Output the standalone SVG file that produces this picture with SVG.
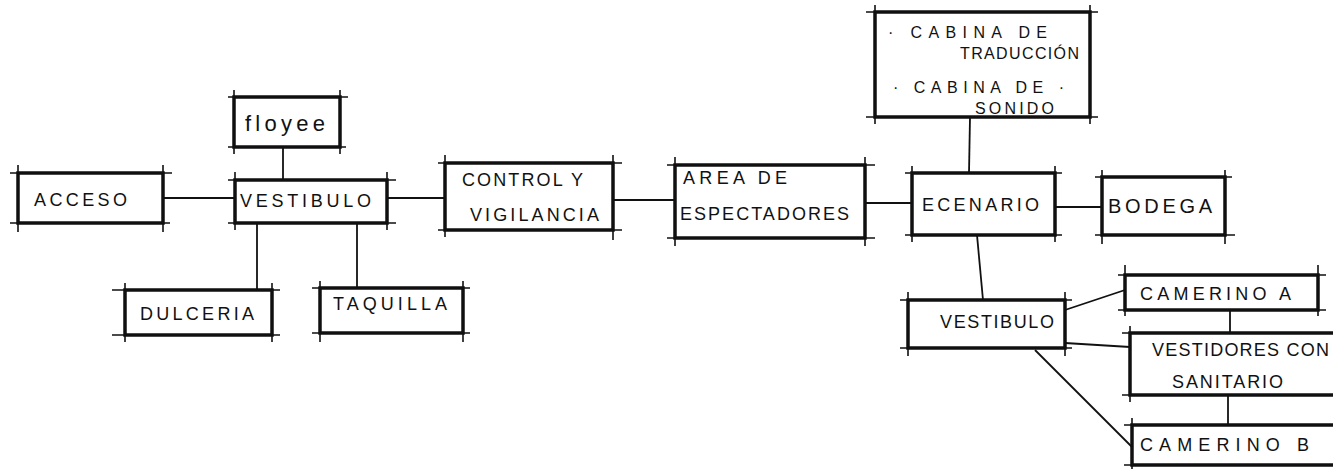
<svg xmlns="http://www.w3.org/2000/svg" width="1333" height="469" viewBox="0 0 1333 469">
<style>
.box{fill:#fff;stroke:#111;stroke-width:3.5;stroke-linejoin:miter}
.ov{fill:none;stroke:#111;stroke-width:1.6}
.conn line{fill:none;stroke:#111;stroke-width:1.8}
text{font-family:"Liberation Sans","DejaVu Sans",sans-serif;font-size:18px;fill:#111;letter-spacing:1px}
.sm{font-size:16px}
.lc{font-size:22px;letter-spacing:0}
</style>
<rect width="1333" height="469" fill="#fff"/>
<g class="conn" id="connectors">
<line x1="163" y1="198" x2="235" y2="198"/>
<line x1="283" y1="147" x2="283" y2="180"/>
<line x1="387" y1="198" x2="445" y2="198"/>
<line x1="257" y1="223" x2="257" y2="290"/>
<line x1="357" y1="223" x2="357" y2="288"/>
<line x1="613" y1="200" x2="675" y2="200"/>
<line x1="865" y1="203" x2="912" y2="203"/>
<line x1="970" y1="117" x2="969" y2="173"/>
<line x1="1055" y1="207" x2="1102" y2="207"/>
<line x1="977" y1="235" x2="983" y2="300"/>
<line x1="1065" y1="310" x2="1125" y2="290"/>
<line x1="1065" y1="343" x2="1130" y2="347"/>
<line x1="1035" y1="350" x2="1132" y2="447"/>
<line x1="1230" y1="310" x2="1230" y2="333"/>
<line x1="1228" y1="395" x2="1228" y2="425"/>
</g>
<g id="acceso">
<rect class="box" x="18" y="173" width="145" height="50"/>
<path class="ov" d="M10 173H172M10 223H170M18 165V232M163 165V232"/>
<text x="34" y="206" textLength="94">ACCESO</text>
</g>
<g id="floyee">
<rect class="box" x="234" y="97" width="106" height="50"/>
<path class="ov" d="M228 97H348M228 147H346M234 90V154M340 90V154"/>
<text class="lc" x="245" y="131" textLength="80">floyee</text>
</g>
<g id="vestibulo1">
<rect class="box" x="235" y="180" width="152" height="43"/>
<path class="ov" d="M228 180H396M228 223H396M235 172V230M387 172V230"/>
<text x="240" y="207" textLength="132">VESTIBULO</text>
</g>
<g id="dulceria">
<rect class="box" x="125" y="290" width="147" height="45"/>
<path class="ov" d="M112 290H280M112 335H280M125 283V342M272 283V342"/>
<text x="140" y="320" textLength="115">DULCERIA</text>
</g>
<g id="taquilla">
<rect class="box" x="320" y="288" width="143" height="45"/>
<path class="ov" d="M312 288H470M312 333H470M320 281V342M463 281V342"/>
<text x="333" y="310" textLength="115">TAQUILLA</text>
</g>
<g id="control">
<rect class="box" x="445" y="163" width="168" height="67"/>
<path class="ov" d="M438 163H622M438 230H622M445 155V237M613 155V240"/>
<text x="462" y="186" textLength="122">CONTROL Y</text>
<text x="470" y="221" textLength="130">VIGILANCIA</text>
</g>
<g id="area">
<rect class="box" x="675" y="165" width="190" height="73"/>
<path class="ov" d="M667 165H875M667 238H875M675 157V246M865 157V246"/>
<text x="683" y="184" textLength="105">AREA DE</text>
<text x="680" y="220" textLength="170">ESPECTADORES</text>
</g>
<g id="cabina">
<rect class="box" x="875" y="12" width="215" height="105"/>
<path class="ov" d="M866 12H1098M866 117H1098M875 5V124M1090 5V124"/>
<text class="sm" x="888" y="38" textLength="160">· CABINA DE</text>
<text class="sm" x="960" y="59" textLength="120">TRADUCCIÓN</text>
<text class="sm" x="893" y="93" textLength="172">· CABINA DE ·</text>
<text class="sm" x="975" y="114" textLength="80">SONIDO</text>
</g>
<g id="escenario">
<rect class="box" x="912" y="173" width="143" height="62"/>
<path class="ov" d="M905 173H1062M905 235H1062M912 166V242M1055 166V242"/>
<text x="922" y="211" textLength="118">ECENARIO</text>
</g>
<g id="bodega">
<rect class="box" x="1102" y="177" width="123" height="58"/>
<path class="ov" d="M1095 177H1232M1095 235H1235M1102 170V244M1225 170V244"/>
<text x="1108" y="213" style="font-size:20px" textLength="105">BODEGA</text>
</g>
<g id="vestibulo2">
<rect class="box" x="908" y="300" width="157" height="48"/>
<path class="ov" d="M900 300H1072M900 348H1072M908 292V356M1065 292V356"/>
<text x="940" y="328" textLength="115">VESTIBULO</text>
</g>
<g id="camerinoA">
<rect class="box" x="1125" y="275" width="193" height="35"/>
<path class="ov" d="M1118 275H1326M1118 310H1326M1125 265V316M1318 265V316"/>
<text x="1140" y="300" textLength="152">CAMERINO A</text>
</g>
<g id="vestidores">
<rect class="box" x="1130" y="333" width="210" height="62"/>
<path class="ov" d="M1122 333H1340M1122 395H1340M1130 326V402"/>
<text x="1152" y="356" textLength="178">VESTIDORES CON</text>
<text x="1172" y="388" textLength="112">SANITARIO</text>
</g>
<g id="camerinoB">
<rect class="box" x="1132" y="425" width="210" height="40"/>
<path class="ov" d="M1124 425H1340M1124 465H1340M1132 418V469"/>
<text x="1140" y="451" textLength="170">CAMERINO B</text>
</g>
</svg>
